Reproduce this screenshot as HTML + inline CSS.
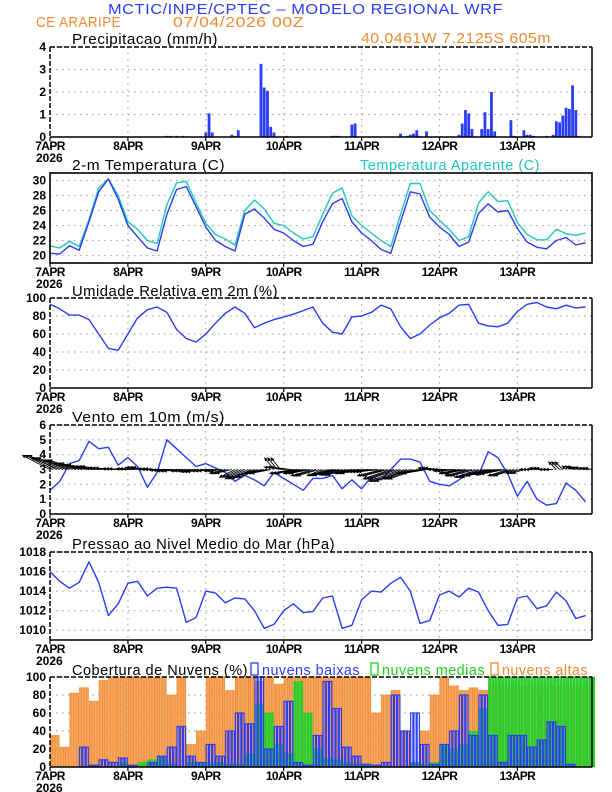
<!DOCTYPE html>
<html><head><meta charset="utf-8"><style>
html,body{margin:0;padding:0;background:#fff;}
svg{display:block;font-family:"Liberation Sans",sans-serif;}
.t{font-size:15px;letter-spacing:0.5px;}
.tick{font-size:12px;font-weight:bold;}
</style></head><body>
<svg id="chart" width="612" height="792" viewBox="0 0 612 792" xmlns="http://www.w3.org/2000/svg">
<text x="108" y="14" class="t" fill="#2a3cf5" textLength="395" lengthAdjust="spacingAndGlyphs">MCTIC/INPE/CPTEC – MODELO REGIONAL WRF</text>
<text x="36" y="27" class="t" fill="#f08a30" textLength="85" lengthAdjust="spacingAndGlyphs">CE ARARIPE</text>
<text x="173" y="27" class="t" fill="#f08a30" textLength="131" lengthAdjust="spacingAndGlyphs">07/04/2026 00Z</text>
<text x="361" y="43" class="t" fill="#f08a30" textLength="190" lengthAdjust="spacingAndGlyphs">40.0461W 7.2125S 605m</text>
<text x="72" y="44" class="t" fill="#000" textLength="146" lengthAdjust="spacingAndGlyphs">Precipitacao (mm/h)</text>
<text x="72" y="170" class="t" fill="#000" textLength="153" lengthAdjust="spacingAndGlyphs">2-m Temperatura (C)</text>
<text x="360" y="170" class="t" fill="#20c8c0" textLength="180" lengthAdjust="spacingAndGlyphs">Temperatura Aparente (C)</text>
<text x="72" y="296" class="t" fill="#000" textLength="206" lengthAdjust="spacingAndGlyphs">Umidade Relativa em 2m (%)</text>
<text x="72" y="422" class="t" fill="#000" textLength="153" lengthAdjust="spacingAndGlyphs">Vento em 10m (m/s)</text>
<text x="72" y="549" class="t" fill="#000" textLength="263" lengthAdjust="spacingAndGlyphs">Pressao ao Nivel Medio do Mar (hPa)</text>
<text x="72" y="675" class="t" fill="#000" textLength="176" lengthAdjust="spacingAndGlyphs">Cobertura de Nuvens (%)</text>
<rect x="251" y="663" width="7" height="12" fill="none" stroke="#2a3cf5" stroke-width="1.3"/>
<text x="262" y="675" class="t" fill="#2a3cf5" textLength="98" lengthAdjust="spacingAndGlyphs">nuvens baixas</text>
<rect x="371" y="663" width="7" height="12" fill="none" stroke="#20d020" stroke-width="1.3"/>
<text x="382" y="675" class="t" fill="#20d020" textLength="103" lengthAdjust="spacingAndGlyphs">nuvens medias</text>
<rect x="491" y="663" width="7" height="12" fill="none" stroke="#f08a30" stroke-width="1.3"/>
<text x="502" y="675" class="t" fill="#f08a30" textLength="86" lengthAdjust="spacingAndGlyphs">nuvens altas</text>
</svg>
<script>
// ---- data (3-hourly unless stated) ----
const dayLabels = ["7APR","8APR","9APR","10APR","11APR","12APR","13APR"];
const precipHours = [13,14,15,16,17,36,37,39,41,48,49,50,56,57,58,65,66,67,68,69,73,87,88,89,93,94,108,110,111,112,113,114,116,126,127,128,129,130,133,134,135,136,137,142,143,146,147,148,149,153,155,156,157,158,159,160,161,162,163];
const precipValues = [0.02,0.02,0.02,0.02,0.02,0.05,0.05,0.05,0.05,0.2,1.05,0.2,0.1,0.05,0.3,3.25,2.2,2.05,0.45,0.2,0.05,0.05,0.05,0.05,0.55,0.6,0.15,0.05,0.1,0.15,0.3,0.05,0.25,0.1,0.6,1.2,1.05,0.35,0.35,1.1,0.35,2.0,0.25,0.75,0.05,0.3,0.1,0.1,0.05,0.05,0.1,0.7,0.65,0.95,1.3,1.25,2.3,1.2,0.05];
const tempValues = [20.3,20.2,21.3,20.7,24.5,28.5,30.2,27.5,24.0,22.5,21.0,20.6,25.5,28.8,29.2,26.5,23.8,22.0,21.2,20.6,25.5,26.2,25.0,23.5,23.0,22.0,21.2,21.5,24.5,26.9,27.6,24.5,23.0,22.0,20.8,20.3,24.5,28.5,28.2,25.1,23.8,22.8,21.2,21.8,25.6,26.9,25.8,26.0,23.6,21.8,21.1,20.9,22.0,22.4,21.4,21.7];
const apparentValues = [21.3,21.0,21.9,21.2,24.8,29.0,30.2,28.0,24.5,23.5,22.0,21.6,26.8,29.7,29.9,27.0,24.3,22.8,22.2,21.4,26.0,27.4,26.2,24.3,24.0,23.0,22.2,22.5,25.5,28.3,29.0,25.3,24.0,23.0,22.0,21.2,25.5,29.6,29.6,26.0,24.7,23.5,22.0,22.5,27.0,28.5,27.2,27.3,24.4,22.8,22.1,22.1,23.5,22.9,22.7,23.0];
const humidityValues = [93,88,81,81,76,60,44,42,60,78,87,90,84,65,55,51,60,72,83,90,83,67,72,76,79,82,86,90,72,62,60,79,80,84,92,88,68,55,60,70,78,83,92,93,72,69,68,72,85,93,95,90,88,92,89,90];
const windSpeedValues = [1.6,2.2,3.4,3.6,4.9,4.4,4.5,3.3,3.8,3.2,1.8,2.8,5.0,4.4,3.8,3.2,3.4,3.1,2.8,2.2,2.6,2.3,1.9,2.8,2.4,2.0,1.6,2.4,2.4,2.6,1.7,2.3,1.7,2.5,2.3,3.0,3.7,3.7,3.5,2.2,2.0,1.9,2.3,2.8,2.6,4.2,3.8,2.7,1.2,2.2,1.0,0.6,0.7,2.1,1.6,0.8];
const windU = [-3.5,-3.6,-3.4,-3.2,-3.5,-3.0,-2.5,-2.0,-1.5,-1.5,-1.2,-2.0,-2.2,-2.5,-2.0,-2.0,-1.8,-1.5,-2.0,-2.0,-2.5,-3.0,-2.5,-1.2,-2.5,-3.0,-2.5,-2.8,-2.0,-2.5,-2.8,-2.2,-2.5,-2.5,-3.0,-3.5,-4.0,-3.5,-3.0,-1.5,-1.5,-2.0,-2.5,-3.0,-3.0,-3.5,-3.0,-2.5,-1.5,-1.0,-1.0,-1.0,-1.0,-0.5,-1.0,-1.0];
const windV = [1.8,1.5,1.2,0.8,0.6,0.4,0.2,0.1,0.1,0.3,0.1,0,-0.1,-0.2,-0.2,-0.3,-0.2,-0.2,-0.5,-1.0,-1.2,-1.0,-0.5,1.5,0.3,-0.5,-0.5,-0.8,-0.8,-0.6,-0.7,-0.5,-0.3,-0.3,-0.8,-1.2,-1.5,-1.2,-0.5,0.2,0,-0.2,-0.5,-0.8,-1.0,-0.8,-0.6,-0.8,-0.5,0,0.2,0,1.0,0.5,0.3,0.2];
const pressureValues = [1016.0,1015.0,1014.3,1014.9,1017.0,1014.9,1011.5,1012.7,1014.8,1015.0,1013.5,1014.3,1014.4,1014.3,1010.8,1011.3,1014.0,1013.8,1012.8,1013.3,1013.2,1012.0,1010.2,1010.6,1012.0,1012.7,1011.8,1011.9,1013.3,1013.5,1010.2,1010.5,1013.1,1014.0,1013.9,1014.8,1015.4,1014.0,1010.7,1011.0,1013.6,1014.0,1013.4,1014.3,1013.9,1012.0,1010.5,1010.6,1013.3,1013.5,1012.2,1012.5,1013.9,1013.0,1011.2,1011.5];
const cloudHigh = [35,22,82,88,73,96,100,100,100,100,100,100,80,100,25,40,100,100,85,100,100,95,100,92,100,100,100,100,100,100,100,100,100,60,80,85,40,0,40,80,100,90,85,88,85,90,90,90,90,90,90,90,90,90,90,90];
const cloudMid = [0,0,0,0,0,0,0,5,0,5,8,12,3,0,5,5,5,5,3,3,15,70,60,25,15,95,60,20,10,8,5,3,3,0,0,0,0,5,3,5,25,20,25,40,65,100,100,100,100,100,100,100,100,100,100,100];
const cloudLow = [0,0,0,22,2,8,5,10,2,0,5,12,22,45,12,5,25,12,40,60,48,100,20,45,73,5,2,35,95,65,22,12,3,2,5,80,40,60,25,3,25,40,80,35,80,35,5,35,35,22,30,50,45,3,0,0];
const precipTicks = [0,1,2,3,4];
const tempTicks = [20,22,24,26,28,30];
const humTicks = [0,20,40,60,80,100];
const windTicks = [0,1,2,3,4,5,6];
const presTicks = [1010,1012,1014,1016,1018];
const cloudTicks = [0,20,40,60,80,100];

const NS="http://www.w3.org/2000/svg";
const svg=document.getElementById('chart');
const X0=50,X1=592,PX=77.9/24;
function xh(h){return X0+h*PX;}
function el(tag,attrs,parent){const e=document.createElementNS(NS,tag);for(const k in attrs)e.setAttribute(k,attrs[k]);(parent||svg).appendChild(e);return e;}
function yScale(top,bot,min,max){return v=>bot-(v-min)/(max-min)*(bot-top);}

function panel(name,top,bot,min,max,ticks){
  const g=el('g',{});
  
  
  const y=yScale(top,bot,min,max);
  ticks.forEach(t=>{
    const l=el('line',{x1:X0,x2:X1,y1:y(t),y2:y(t),stroke:'#aaa','stroke-dasharray':'1.5,4.5','stroke-width':1.2},g);
    
    
    const tx=el('text',{x:46,y:y(t)+4,'text-anchor':'end',class:'tick'},g);
    
    
    tx.textContent=t;
  });
  dayLabels.forEach((d,i)=>{
    const x=xh(i*24);
    if(i>0){const l=el('line',{x1:x,x2:x,y1:top,y2:bot,stroke:'#aaa','stroke-dasharray':'1.5,4.5','stroke-width':1.2},g);
      
      }
    el('line',{x1:x,x2:x,y1:bot,y2:bot+4,stroke:'#000','stroke-width':1.2},g);
    const tx=el('text',{x:x,y:bot+13,'text-anchor':'middle',class:'tick','letter-spacing':'-0.6'},g);
    
    
    tx.textContent=d;
  });
  const yr=el('text',{x:36,y:bot+25,class:'tick'},g);
  
  
  yr.textContent='2026';
  return {g,y,top,bot};
}
function frame(p,name){
  el('line',{x1:X0,x2:X1,y1:p.top,y2:p.top,stroke:'#000','stroke-width':1.5,'stroke-dasharray':'5,2'},p.g);
  el('line',{x1:X0,x2:X0,y1:p.top,y2:p.bot,stroke:'#000','stroke-width':1.5,'stroke-dasharray':'5,2'},p.g);
  el('line',{x1:X1,x2:X1,y1:p.top,y2:p.bot,stroke:'#000','stroke-width':1.5},p.g);
  const b=el('line',{x1:X0,x2:X1,y1:p.bot,y2:p.bot,stroke:'#000','stroke-width':1.5},p.g);
  
  
}
function line(p,vals,color,name,w){
  const pts=vals.map((v,i)=>xh(i*3).toFixed(1)+','+p.y(v).toFixed(1)).join(' ');
  const pl=el('polyline',{points:pts,fill:'none',stroke:color,'stroke-width':w||1.4,'stroke-linejoin':'round'},p.g);
  
  
}

// Precip
const pp=panel('precip',47,137,0,4,precipTicks);
precipHours.forEach((h,i)=>{
  const x=xh(h),yv=pp.y(precipValues[i]);
  const r=el('rect',{x:x-1.4,y:yv,width:2.8,height:Math.max(0.8,137-yv),fill:'#2a3cf5'},pp.g);
  
  
});
frame(pp,'precip');

// Temperature
const pt=panel('temp',173,263,19,31,tempTicks);
line(pt,apparentValues,'#20c8c0','apparent-temp-line');
line(pt,tempValues,'#2a3cf5','temp-line');
el('rect',{x:X0,y:173,width:X1-X0,height:90,fill:'none',stroke:'#000','stroke-width':1.6},pt.g);

// Humidity
const ph=panel('humidity',298,388,0,100,humTicks);
line(ph,humidityValues,'#2a3cf5','humidity-line');
frame(ph,'humidity');

// Wind
const pw=panel('wind',425,514,0,6,windTicks);
line(pw,windSpeedValues,'#2a3cf5','wind-speed-line');
const base=pw.y(3);
windU.forEach((u,i)=>{
  const v=windV[i]; if(v===undefined)return;
  for(let k=0;k<3;k++){
    const x=xh(i*3+k), x2=x+u*8, y2=base-v*8;
    const a=el('line',{x1:x,y1:base,x2:x2,y2:y2,stroke:'#000','stroke-width':0.9},pw.g);
    
    
    const ang=Math.atan2(y2-base,x2-x);
    const hd=el('polygon',{points:[x2,y2,x2-4*Math.cos(ang-0.5),y2-4*Math.sin(ang-0.5),x2-4*Math.cos(ang+0.5),y2-4*Math.sin(ang+0.5)].join(' '),fill:'#000'},pw.g);
    
    
  }
});
frame(pw,'wind');

// Pressure
const ps=panel('pressure',552,640,1009,1018,presTicks);
line(ps,pressureValues,'#2a3cf5','pressure-line');
frame(ps,'pressure');

// Clouds
const pc=panel('cloud',677,767,0,100,cloudTicks);
function cloudBars(vals,fill,stroke,name,sw){
  vals.forEach((v,i)=>{
    for(let k=0;k<3;k++){
      const h=i*3+k; if(h>167)continue;
      const yv=pc.y(v);
      const r=el('rect',{x:xh(h)+0.4,y:yv,width:2.2,height:767-yv,fill:fill,stroke:stroke,'stroke-width':sw},pc.g);
      
      
    }
  });
}
cloudBars(cloudHigh,'#f5a35c','#f08a30','cloud-high-bar',0.8);
cloudBars(cloudMid,'#38c838','#20d020','cloud-mid-bar',0.8);
cloudBars(cloudLow,'none','#2a3cf5','cloud-low-bar',1.2);
frame(pc,'cloud');
</script>
</body></html>
